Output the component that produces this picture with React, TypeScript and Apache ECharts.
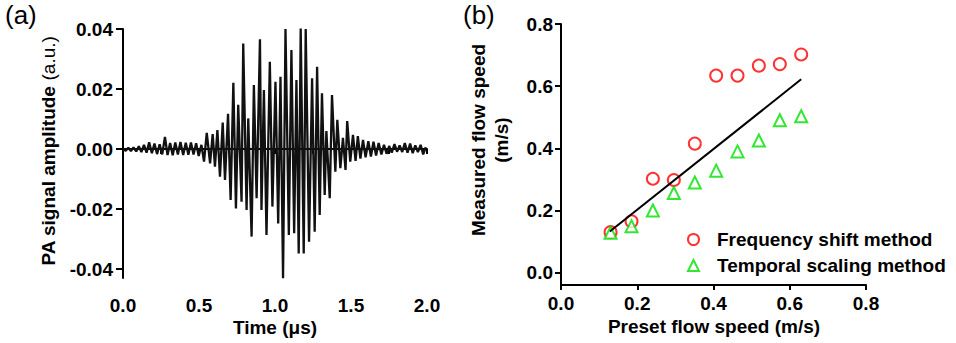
import React, { useEffect, useRef } from "react";
import * as echarts from "echarts";

// ---------- Panel (a): PA signal waveform (peaks / troughs) ----------
const waveTime = [
  0.000, 0.018, 0.035, 0.052, 0.069, 0.087, 0.104, 0.121, 0.138, 0.155,
  0.172, 0.190, 0.207, 0.224, 0.241, 0.258, 0.276, 0.293, 0.310, 0.327,
  0.344, 0.361, 0.378, 0.396, 0.413, 0.430, 0.447, 0.464, 0.481, 0.498,
  0.516, 0.533, 0.551, 0.573, 0.590, 0.605, 0.621, 0.638, 0.656, 0.671,
  0.691, 0.708, 0.726, 0.743, 0.758, 0.780, 0.791, 0.813, 0.824, 0.846,
  0.861, 0.879, 0.901, 0.911, 0.927, 0.944, 0.966, 0.983, 1.003, 1.021,
  1.036, 1.053, 1.069, 1.091, 1.108, 1.126, 1.141, 1.156, 1.169, 1.189,
  1.202, 1.224, 1.244, 1.261, 1.277, 1.294, 1.309, 1.327, 1.338, 1.360,
  1.375, 1.397, 1.410, 1.430, 1.447, 1.464, 1.475, 1.495, 1.513, 1.530,
  1.545, 1.562, 1.579, 1.596, 1.614, 1.631, 1.648, 1.665, 1.682, 1.700,
  1.717, 1.734, 1.751, 1.768, 1.786, 1.803, 1.820, 1.837, 1.854, 1.872,
  1.889, 1.906, 1.923, 1.940, 1.958, 1.975, 1.992,
];
const waveAmp = [
  0.0000, -0.0006, 0.0004, -0.0007, 0.0005, -0.0008, 0.0009, -0.0010, 0.0014, -0.0012,
  0.0022, -0.0014, 0.0018, -0.0017, 0.0016, -0.0018, 0.0040, -0.0020, 0.0020, -0.0021,
  0.0022, -0.0018, 0.0023, -0.0020, 0.0021, -0.0019, 0.0022, -0.0018, 0.0019, -0.0023,
  0.0014, -0.0042, 0.0054, -0.0048, 0.0050, -0.0059, 0.0063, -0.0092, 0.0088, -0.0103,
  0.0117, -0.0170, 0.0221, -0.0198, 0.0147, -0.0176, 0.0352, -0.0203, 0.0102, -0.0292,
  0.0213, -0.0164, 0.0366, -0.0203, 0.0197, -0.0287, 0.0291, -0.0192, 0.0224, -0.0248,
  0.0241, -0.0431, 0.0400, -0.0287, 0.0330, -0.0281, 0.0230, -0.0348, 0.0402, -0.0348,
  0.0400, -0.0309, 0.0236, -0.0276, 0.0274, -0.0220, 0.0186, -0.0153, 0.0060, -0.0164,
  0.0180, -0.0076, 0.0097, -0.0064, 0.0037, -0.0070, 0.0093, -0.0042, 0.0047, -0.0040,
  0.0043, -0.0032, 0.0030, -0.0028, 0.0026, -0.0025, 0.0024, -0.0022, 0.0020, -0.0018,
  0.0014, -0.0016, 0.0010, -0.0012, 0.0016, -0.0009, 0.0012, -0.0010, 0.0020, -0.0012,
  0.0018, -0.0014, 0.0012, -0.0010, 0.0014, -0.0018, 0.0006,
];
const aXTicks = [0, 0.25, 0.5, 0.75, 1, 1.25, 1.5, 1.75, 2];
const aXLabels = [0, 0.5, 1, 1.5, 2];
const aYLabels = [-0.04, -0.02, 0, 0.02, 0.04];

// ---------- Panel (b): flow speed ----------
const presetSpeed = [0.13, 0.185, 0.241, 0.296, 0.351, 0.407, 0.463, 0.519, 0.574, 0.63];
const freqShiftSpeed = [0.13, 0.165, 0.302, 0.298, 0.415, 0.634, 0.634, 0.666, 0.671, 0.702];
const temporalSpeed = [0.128, 0.149, 0.2, 0.256, 0.29, 0.328, 0.39, 0.425, 0.49, 0.503];
const fitX = [0.128, 0.63];
const fitY = [0.132, 0.622];
const bTicks = [0, 0.2, 0.4, 0.6, 0.8];

const FONT = "'Liberation Sans', Arial, Helvetica, sans-serif";
const RED = "#ff0000";
const GREEN = "#00e000";

export default function App() {
  const ref = useRef<HTMLDivElement>(null);

  useEffect(() => {
    if (!ref.current) return;
    const chart = echarts.init(ref.current, null, { renderer: "svg" });

    const labelStyle = {
      fontFamily: FONT,
      fontSize: 19,
      fontWeight: "bold" as const,
      color: "#000",
    };
    const axisLine = { show: true, lineStyle: { color: "#000", width: 2 } };
    const titleStyle = {
      align: "center",
      verticalAlign: "middle",
      fontFamily: FONT,
      fontSize: 19,
      fontWeight: "bold",
      fill: "#000",
    };

    const option: any = {
      animation: false,
      backgroundColor: "#fff",
      grid: [
        { left: 123, right: 529, top: 29, bottom: 65 },
        { left: 561, right: 90, top: 24, bottom: 58 },
      ],
      xAxis: [
        {
          type: "value",
          gridIndex: 0,
          min: 0,
          max: 2,
          offset: 9,
          axisLine,
          axisTick: { show: true, length: 5, lineStyle: { color: "#000", width: 2 }, customValues: aXTicks },
          axisLabel: { ...labelStyle, margin: 9, customValues: aXLabels, formatter: (v: number) => v.toFixed(1) },
          splitLine: { show: false },
        },
        {
          type: "value",
          gridIndex: 1,
          min: 0,
          max: 0.8,
          axisLine: { ...axisLine, onZero: false },
          axisTick: { show: true, length: 5, lineStyle: { color: "#000", width: 2 }, customValues: bTicks },
          axisLabel: { ...labelStyle, margin: 9, customValues: bTicks, formatter: (v: number) => v.toFixed(1) },
          splitLine: { show: false },
        },
      ],
      yAxis: [
        {
          type: "value",
          gridIndex: 0,
          min: -0.043,
          max: 0.04,
          axisLine,
          axisTick: { show: true, length: 7, lineStyle: { color: "#000", width: 2 }, customValues: aYLabels },
          axisLabel: { ...labelStyle, margin: 10, customValues: aYLabels, formatter: (v: number) => v.toFixed(2) },
          splitLine: { show: false },
        },
        {
          type: "value",
          gridIndex: 1,
          min: -0.04,
          max: 0.8,
          axisLine: { ...axisLine, onZero: false },
          axisTick: { show: true, length: 6, lineStyle: { color: "#000", width: 2 }, customValues: bTicks },
          axisLabel: { ...labelStyle, margin: 8, customValues: bTicks, formatter: (v: number) => v.toFixed(1) },
          splitLine: { show: false },
        },
      ],
      legend: {
        orient: "vertical",
        left: 682,
        top: 225,
        itemWidth: 11,
        itemHeight: 11,
        itemGap: 7,
        textStyle: { ...labelStyle, padding: [0, 0, 0, 13] },
        data: ["Frequency shift method", "Temporal scaling method"],
      },
      series: [
        {
          type: "line",
          xAxisIndex: 0,
          yAxisIndex: 0,
          data: waveTime.map((t, i) => [t, waveAmp[i]]),
          showSymbol: false,
          clip: false,
          lineStyle: { color: "#111", width: 2.3 },
        },
        {
          type: "line",
          name: "fit",
          xAxisIndex: 1,
          yAxisIndex: 1,
          data: fitX.map((x, i) => [x, fitY[i]]),
          showSymbol: false,
          lineStyle: { color: "#000", width: 2 },
        },
        {
          type: "scatter",
          name: "Frequency shift method",
          xAxisIndex: 1,
          yAxisIndex: 1,
          data: presetSpeed.map((x, i) => [x, freqShiftSpeed[i]]),
          symbol: "emptyCircle",
          symbolSize: 12,
          itemStyle: { color: RED, borderColor: RED, borderWidth: 2.2 },
        },
        {
          type: "scatter",
          name: "Temporal scaling method",
          xAxisIndex: 1,
          yAxisIndex: 1,
          data: presetSpeed.map((x, i) => [x, temporalSpeed[i]]),
          symbol: "emptyTriangle",
          symbolSize: 12,
          itemStyle: { color: GREEN, borderColor: GREEN, borderWidth: 2.2 },
        },
      ],
      graphic: [
        { type: "text", left: 5, top: 2, style: { text: "(a)", fontFamily: FONT, fontSize: 26, fill: "#000" } },
        { type: "text", left: 463, top: 2, style: { text: "(b)", fontFamily: FONT, fontSize: 26, fill: "#000" } },
        {
          type: "text",
          x: 48,
          y: 151,
          rotation: Math.PI / 2,
          style: {
            text: "{b|PA signal amplitude }{n|(a.u.)}",
            align: "center",
            verticalAlign: "middle",
            rich: {
              b: { fontFamily: FONT, fontSize: 19, fontWeight: "bold", fill: "#000" },
              n: { fontFamily: FONT, fontSize: 19, fontWeight: "normal", fill: "#000" },
            },
          },
        },
        { type: "text", x: 478, y: 140, rotation: Math.PI / 2, style: { ...titleStyle, text: "Measured flow speed" } },
        { type: "text", x: 501, y: 140, rotation: Math.PI / 2, style: { ...titleStyle, text: "(m/s)" } },
        { type: "text", x: 275, y: 327, style: { ...titleStyle, text: "Time (μs)" } },
        { type: "text", x: 714, y: 326, style: { ...titleStyle, text: "Preset flow speed (m/s)" } },
      ],
    };

    chart.setOption(option);
    return () => chart.dispose();
  }, []);

  return (
    <div
      ref={ref}
      style={{ position: "absolute", left: 0, top: 0, width: 956, height: 343 }}
    />
  );
}
